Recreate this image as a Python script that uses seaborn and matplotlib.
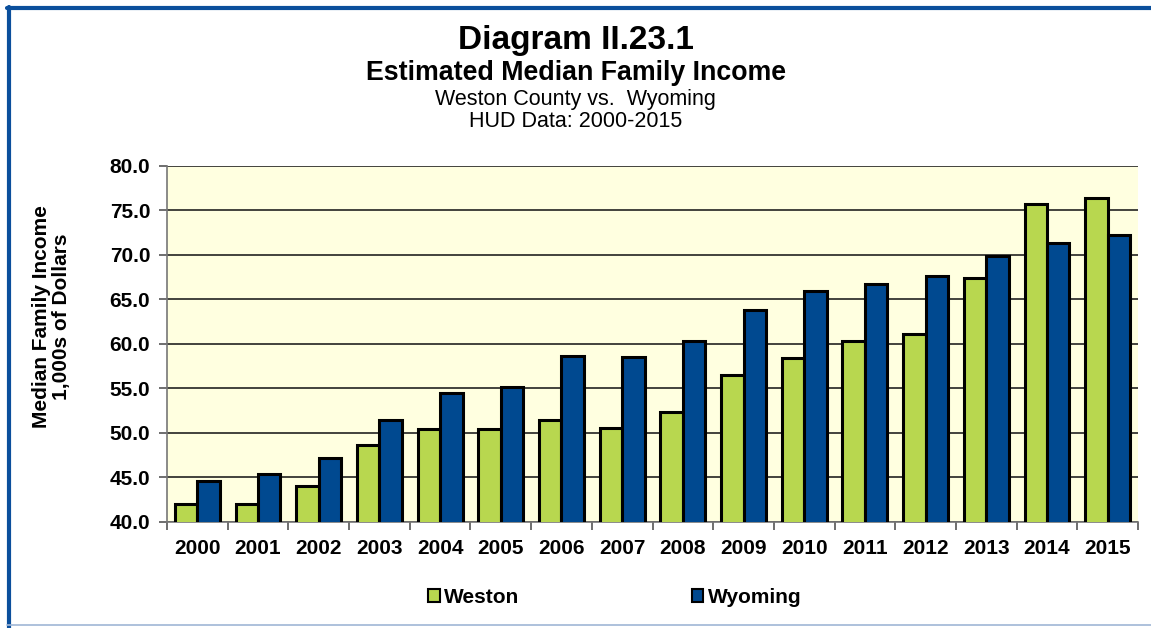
import matplotlib
matplotlib.use("Agg")
import matplotlib.pyplot as plt
import pandas as pd
import seaborn as sns
from matplotlib.lines import Line2D
from matplotlib.patches import Patch

years = [str(y) for y in range(2000, 2016)]
weston = [42.0, 42.0, 44.1, 48.7, 50.4, 50.4, 51.5, 50.6,
          52.4, 56.5, 58.4, 60.3, 61.1, 67.4, 75.7, 76.4]
wyoming = [44.6, 45.4, 47.2, 51.5, 54.5, 55.2, 58.7, 58.5,
           60.3, 63.8, 66.0, 66.7, 67.6, 69.9, 71.3, 72.3]
series = ["Weston", "Wyoming"]
colors = ["#B8D74F", "#004990"]

df = pd.DataFrame({"Year": years * 2,
                   "Income": weston + wyoming,
                   "Area": [series[0]] * len(years) + [series[1]] * len(years)})

sns.set_style("white")
plt.rcParams["font.family"] = ["Liberation Sans", "DejaVu Sans"]
plt.rcParams["text.color"] = "black"
plt.rcParams["axes.labelcolor"] = "black"

fig = plt.figure(figsize=(11.51, 6.28), dpi=100)
ax = fig.add_axes([0.1451, 0.1688, 0.8436, 0.5669])
ax.set_facecolor("#FFFFE0")

sns.barplot(data=df, x="Year", y="Income", hue="Area", palette=colors,
            width=0.74, gap=0, edgecolor="black", linewidth=2.2,
            saturation=1, legend=False, ax=ax, zorder=3)

ax.set_ylim(40, 80)
ax.set_xlim(-0.5, len(years) - 0.5)
ax.set_yticks([40 + 5 * i for i in range(9)])
ax.set_yticklabels([f"{40 + 5 * i:.1f}" for i in range(9)], fontsize=15, fontweight="bold")
ax.yaxis.grid(True, color="#222222", linewidth=1.2, zorder=0)
ax.set_axisbelow(True)

# x ticks at category boundaries, labels centered
ax.set_xticks([i - 0.5 for i in range(len(years) + 1)])
ax.set_xticklabels([])
ax.set_xticks(range(len(years)), minor=True)
ax.set_xticklabels(years, minor=True, fontsize=15, fontweight="bold")
ax.tick_params(axis="x", which="minor", length=0, pad=12, labelcolor="black")
ax.tick_params(axis="x", which="major", length=6, width=1.2, color="#555555", direction="out")
ax.tick_params(axis="y", length=6, width=1.2, color="#555555", direction="out", pad=6, labelcolor="black")
ax.tick_params(bottom=True, left=True)

ax.set_xlabel("")
ax.set_ylabel("Median Family Income\n1,000s of Dollars", fontsize=15, fontweight="bold",
              linespacing=1.05)
ax.yaxis.set_label_coords(-0.0989, 0.576)

for side in ["top", "right"]:
    ax.spines[side].set_visible(False)
ax.spines["left"].set_color("#777777")
ax.spines["bottom"].set_color("#777777")
ax.spines["left"].set_linewidth(1.2)
ax.spines["bottom"].set_linewidth(1.2)

# titles
fig.text(0.5, 0.936, "Diagram II.23.1", ha="center", va="center", fontsize=24, fontweight="bold")
fig.text(0.5, 0.884, "Estimated Median Family Income", ha="center", va="center", fontsize=19.3, fontweight="bold")
fig.text(0.5, 0.841, "Weston County vs.  Wyoming", ha="center", va="center", fontsize=15.5)
fig.text(0.5, 0.807, "HUD Data: 2000-2015", ha="center", va="center", fontsize=15.5)

# legend
handles = [Patch(facecolor=c, edgecolor="black", linewidth=1.5) for c in colors]
fig.legend(handles, series, loc="center", bbox_to_anchor=(0.534, 0.049), ncol=2,
           frameon=False, handlelength=0.55, handleheight=0.55, handletextpad=0.2,
           columnspacing=8.3, prop={"weight": "bold", "size": 15})

# frame around the chart
fig.add_artist(Line2D([0.0078, 0.0078], [0.0, 0.989], color="#0B4F9C", linewidth=3, transform=fig.transFigure))
fig.add_artist(Line2D([0.0065, 1.0], [0.988, 0.988], color="#0B4F9C", linewidth=3, transform=fig.transFigure))
fig.add_artist(Line2D([0.0065, 1.0], [0.004, 0.004], color="#9FB6D6", linewidth=1.2, transform=fig.transFigure))

fig.savefig("out.png", dpi=100, facecolor="white")
